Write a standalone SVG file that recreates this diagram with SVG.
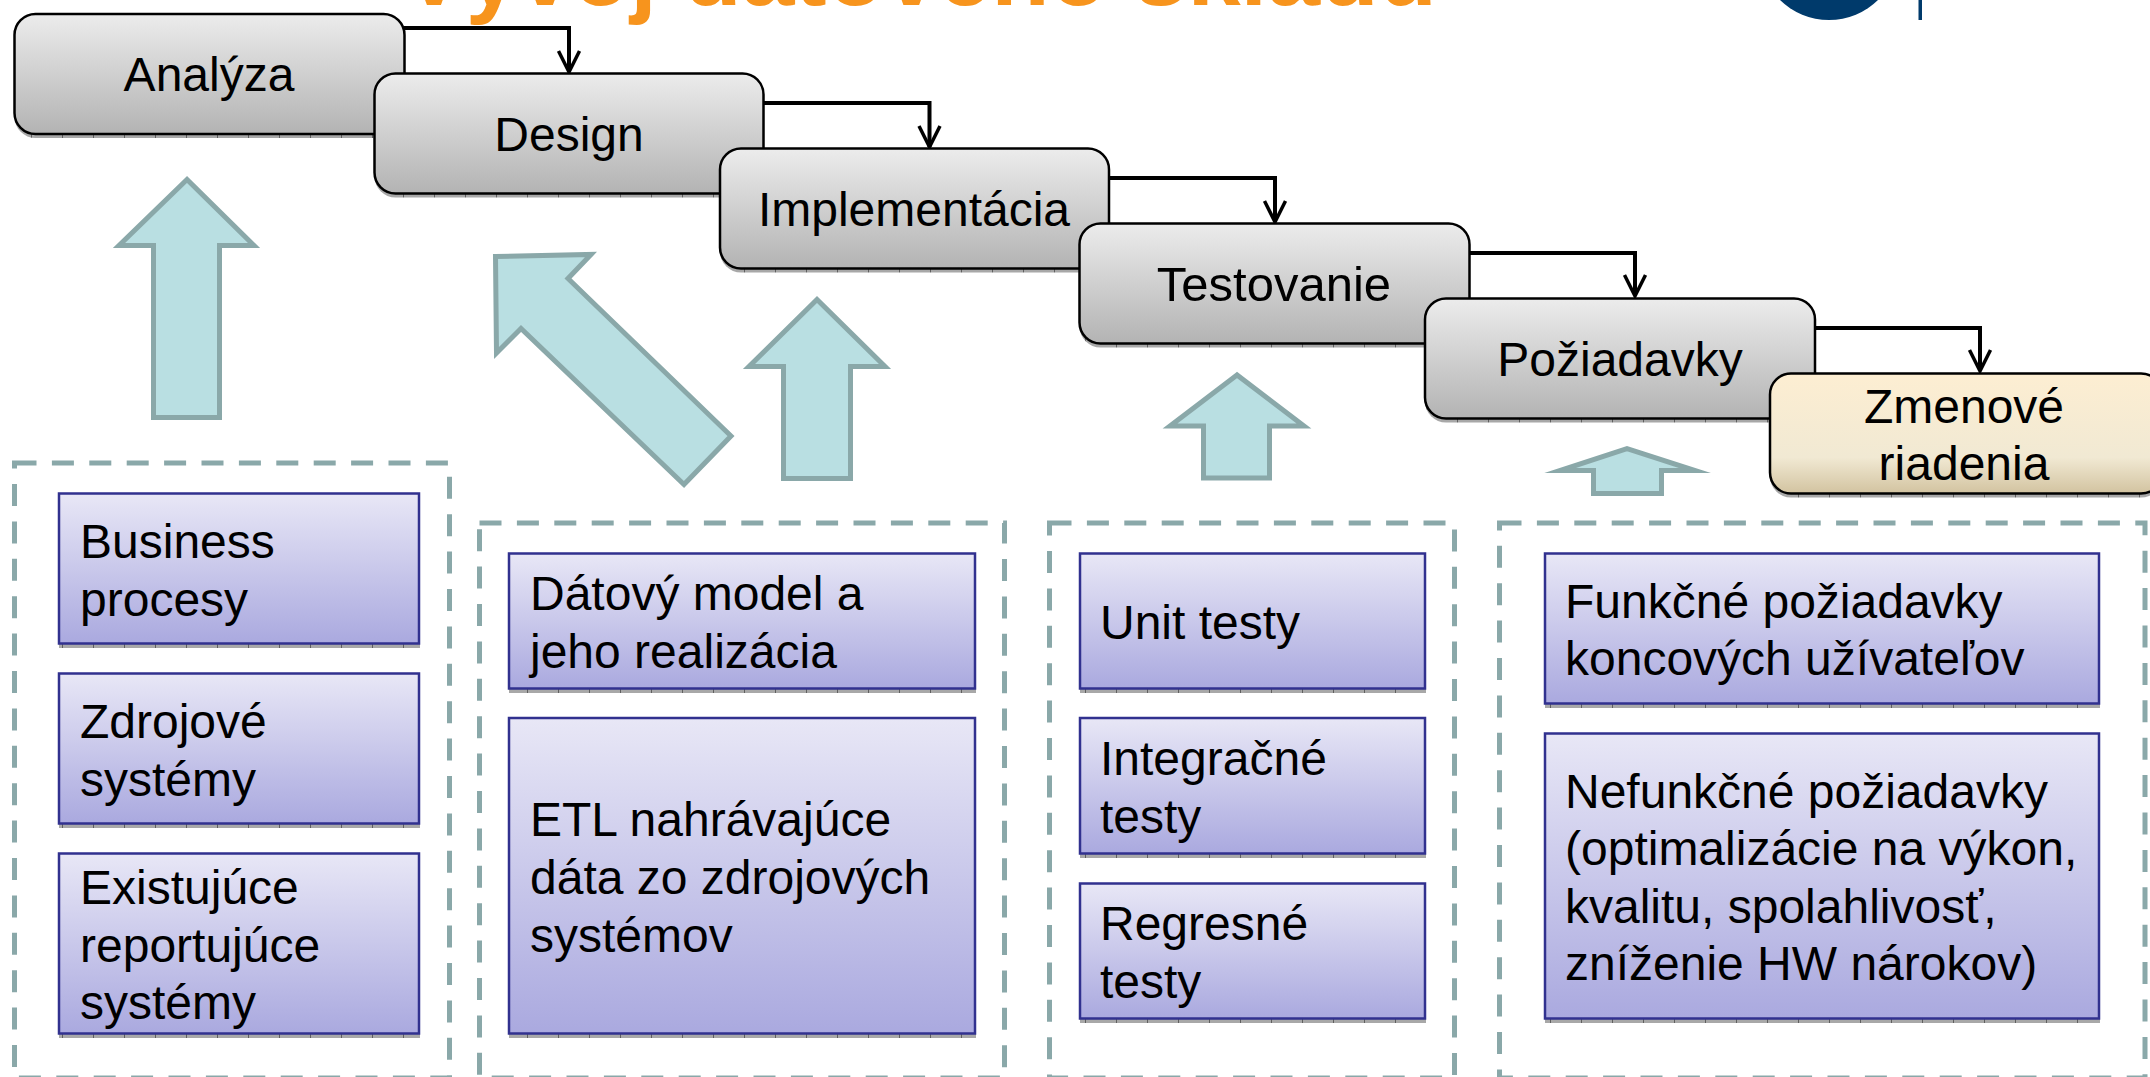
<svg xmlns="http://www.w3.org/2000/svg" width="2150" height="1077" viewBox="0 0 2150 1077">
<style>
text{font-family:"Liberation Sans",Arial,sans-serif;font-size:48px;fill:#000}
.title{font-size:95.500px;font-weight:bold;fill:#f7941d}
.c{text-anchor:middle}
.g{fill:url(#gr);stroke:#000;stroke-width:2.5}
.y{fill:url(#cr);stroke:#000;stroke-width:2.5}
.p{fill:url(#pu);stroke:#31318f;stroke-width:2.5}
.s{fill:url(#sh)}
.f{fill:none;stroke:#8aa8a9;stroke-width:5;stroke-dasharray:22 15.4}
.b{fill:#b9dfe2;stroke:#8aa8a9;stroke-width:5;stroke-miterlimit:12}
.l{fill:none;stroke:#000;stroke-width:4;marker-end:url(#ah)}
</style>
<defs>
<linearGradient id="gr" x1="0" y1="0" x2="0" y2="1"><stop offset="0" stop-color="#ececec"/><stop offset="1" stop-color="#b3b3b3"/></linearGradient>
<linearGradient id="cr" x1="0" y1="0" x2="0" y2="1"><stop offset="0" stop-color="#fdeed2"/><stop offset="0.7" stop-color="#f1e9d3"/><stop offset="1" stop-color="#d2c3a0"/></linearGradient>
<linearGradient id="pu" x1="0" y1="0" x2="0" y2="1"><stop offset="0" stop-color="#e8e7f6"/><stop offset="1" stop-color="#aaa9df"/></linearGradient>
<pattern id="sh" width="31" height="4" patternUnits="userSpaceOnUse"><rect width="31" height="4" fill="#a8a8a8"/><rect width="1" height="4" fill="#5f5f5f"/></pattern>
<marker id="ah" viewBox="-24 -14 26 28" markerWidth="26" markerHeight="28" refX="0" refY="0" orient="auto" markerUnits="userSpaceOnUse"><path d="M-21,-10.500L0,0L-21,10.500" fill="none" stroke="#000" stroke-width="3.500"/></marker>
</defs>

<g id="title"><text class="title" x="402" y="5">Vývoj dátového skladu</text></g>
<g id="logo"><circle cx="1829" cy="-50" r="70" fill="#003a6b"/><rect x="1918.500" y="0" width="3.500" height="20" fill="#003a6b"/></g>

<g id="frames">
<rect id="frame-1" class="f" x="14.500" y="463" width="435" height="615"/>
<rect id="frame-2" class="f" x="479.500" y="523" width="525" height="555"/>
<rect id="frame-3" class="f" x="1049.500" y="523" width="405" height="555"/>
<rect id="frame-4" class="f" x="1499.500" y="523" width="645.500" height="555"/>
</g>

<g id="block-arrows">
<polygon class="b" points="187,179.500 119,245.500 153.500,245.500 153.500,417.500 219.500,417.500 219.500,245.500 254,245.500"/>
<polygon class="b" points="495.500,256.500 591,254.500 568,278.500 731,436 684,484.500 521,328.500 496.500,353"/>
<polygon class="b" points="817,299.500 749,366.500 783.500,366.500 783.500,478.500 850.500,478.500 850.500,366.500 885,366.500"/>
<polygon class="b" points="1237,375 1170,426 1203.500,426 1203.500,478 1269.500,478 1269.500,426 1304,426"/>
<polygon class="b" points="1627,448.600 1560,470.500 1593.500,470.500 1593.500,493.500 1661.500,493.500 1661.500,470.500 1695,470.500"/>
</g>

<g id="connectors">
<path class="l" d="M404,28H569V72"/>
<path class="l" d="M763,103H929.500V147"/>
<path class="l" d="M1109,178H1275V222"/>
<path class="l" d="M1470,253H1635V296"/>
<path class="l" d="M1815,328H1980V371"/>
</g>

<g id="n-analyza"><rect class="s" x="14.500" y="18" width="390" height="120" rx="21"/><rect class="g" x="14.500" y="14" width="390" height="120" rx="21"/><text class="c" x="209" y="91">Analýza</text></g>
<g id="n-design"><rect class="s" x="374.500" y="77.500" width="389" height="120" rx="21"/><rect class="g" x="374.500" y="73.500" width="389" height="120" rx="21"/><text class="c" x="569" y="151">Design</text></g>
<g id="n-implementacia"><rect class="s" x="720" y="152.500" width="389" height="120" rx="21"/><rect class="g" x="720" y="148.500" width="389" height="120" rx="21"/><text class="c" x="914" y="226">Implementácia</text></g>
<g id="n-testovanie"><rect class="s" x="1079.500" y="227.500" width="390" height="120" rx="21"/><rect class="g" x="1079.500" y="223.500" width="390" height="120" rx="21"/><text class="c" x="1274" y="301" style="font-size:49px">Testovanie</text></g>
<g id="n-poziadavky"><rect class="s" x="1425" y="302.500" width="390" height="120" rx="21"/><rect class="g" x="1425" y="298.500" width="390" height="120" rx="21"/><text class="c" x="1620" y="376">Požiadavky</text></g>
<g id="n-zmenove"><rect class="s" x="1770" y="377.500" width="392" height="120" rx="21"/><rect class="y" x="1770" y="373.500" width="392" height="120" rx="21"/><text class="c" x="1964" y="423">Zmenové</text><text class="c" x="1964" y="480">riadenia</text></g>

<g id="p-business"><rect class="s" x="59" y="644" width="361" height="4"/><rect class="p" x="59" y="493.500" width="360" height="150"/><text x="80" y="558">Business</text><text x="80" y="616">procesy</text></g>
<g id="p-zdrojove"><rect class="s" x="59" y="824" width="361" height="4"/><rect class="p" x="59" y="673.500" width="360" height="150"/><text x="80" y="738">Zdrojové</text><text x="80" y="796">systémy</text></g>
<g id="p-existujuce"><rect class="s" x="59" y="1034" width="361" height="4"/><rect class="p" x="59" y="853.500" width="360" height="180"/><text x="80" y="904">Existujúce</text><text x="80" y="962">reportujúce</text><text x="80" y="1019">systémy</text></g>

<g id="p-datovy"><rect class="s" x="509" y="689" width="467" height="4"/><rect class="p" x="509" y="553.500" width="466" height="135"/><text x="530" y="610">Dátový model a</text><text x="530" y="668">jeho realizácia</text></g>
<g id="p-etl"><rect class="s" x="509" y="1034" width="467" height="4"/><rect class="p" x="509" y="718" width="466" height="315.500"/><text x="530" y="836">ETL nahrávajúce</text><text x="530" y="894">dáta zo zdrojových</text><text x="530" y="952">systémov</text></g>

<g id="p-unit"><rect class="s" x="1080" y="689" width="346" height="4"/><rect class="p" x="1080" y="553.500" width="345" height="135"/><text x="1100" y="639">Unit testy</text></g>
<g id="p-integracne"><rect class="s" x="1080" y="854" width="346" height="4"/><rect class="p" x="1080" y="718" width="345" height="135.500"/><text x="1100" y="775">Integračné</text><text x="1100" y="833">testy</text></g>
<g id="p-regresne"><rect class="s" x="1080" y="1019" width="346" height="4"/><rect class="p" x="1080" y="883.500" width="345" height="135"/><text x="1100" y="940">Regresné</text><text x="1100" y="998">testy</text></g>

<g id="p-funkcne"><rect class="s" x="1545" y="704" width="555" height="4"/><rect class="p" x="1545" y="553.500" width="554" height="150"/><text x="1565" y="618">Funkčné požiadavky</text><text x="1565" y="675">koncových užívateľov</text></g>
<g id="p-nefunkcne"><rect class="s" x="1545" y="1019" width="555" height="4"/><rect class="p" x="1545" y="733.500" width="554" height="285"/><text x="1565" y="808">Nefunkčné požiadavky</text><text x="1565" y="865">(optimalizácie na výkon,</text><text x="1565" y="923">kvalitu, spolahlivosť,</text><text x="1565" y="980">zníženie HW nárokov)</text></g>
</svg>
